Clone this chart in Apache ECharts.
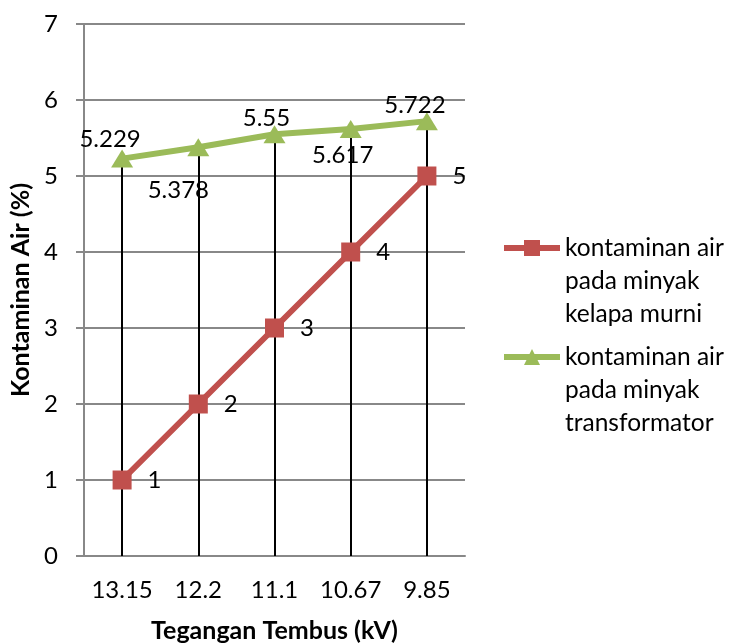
<!DOCTYPE html>
<html>
<head>
<meta charset="utf-8">
<script src="https://cdn.jsdelivr.net/npm/echarts@6/dist/echarts.min.js"></script>
<style>html,body{margin:0;padding:0;background:#fff}#c{width:729px;height:644px}</style>
</head>
<body>
<div id="c"></div>
<script>
const categories = ['13.15', '12.2', '11.1', '10.67', '9.85'];
const kelapaMurni = [1, 2, 3, 4, 5];
const transformator = [5.229, 5.378, 5.55, 5.617, 5.722];
const seriesNames = ['kontaminan air pada minyak kelapa murni', 'kontaminan air pada minyak transformator'];
const legendText = ['kontaminan air\npada minyak\nkelapa murni', 'kontaminan air\npada minyak\ntransformator'];
const yTicks = [0, 1, 2, 3, 4, 5, 6, 7];
// label offsets for the green series (dx, dy) relative to the point
const greenLabelOffsets = [[-12, -19], [-20, 43], [-8, -16], [-8, 26], [-12, -16]];

const FONT = 'Lato';
const FS = 24;
const chart = echarts.init(document.getElementById('c'));

const dropLines = categories.map((c, i) => [
  { coord: [i, Math.max(kelapaMurni[i], transformator[i])] },
  { coord: [i, 0] }
]);

function legendFor(i, top) {
  return {
    data: [seriesNames[i]],
    left: 501,
    top: top,
    padding: 0,
    orient: 'vertical',
    itemWidth: 56,
    itemHeight: 20,
    itemGap: 0,
    lineStyle: { width: 6 },
    formatter: () => '\n\n' + legendText[i],
    textStyle: {
      fontFamily: FONT, fontSize: 24.5, color: '#000', lineHeight: 33
    }
  };
}

chart.setOption({
  animation: false,
  backgroundColor: '#fff',
  grid: { left: 84, right: 264, top: 24, bottom: 88, containLabel: false, outerBoundsMode: 'none' },
  legend: [legendFor(0, 248 - 82.5), legendFor(1, 357 - 82.5)],
  xAxis: {
    type: 'category',
    data: categories,
    boundaryGap: true,
    name: 'Tegangan Tembus (kV)',
    nameLocation: 'middle',
    nameGap: 62,
    nameTextStyle: { fontFamily: FONT, fontSize: 25, fontWeight: 'bold', color: '#000' },
    axisLine: { lineStyle: { color: '#888', width: 2 } },
    axisTick: { show: false },
    axisLabel: { fontFamily: FONT, fontSize: FS, color: '#000', margin: 22, interval: 0 },
    splitLine: { show: false }
  },
  yAxis: {
    type: 'value',
    min: 0, max: 7, interval: 1,
    name: 'Kontaminan Air (%)',
    nameLocation: 'middle',
    nameGap: 50,
    nameTextStyle: { fontFamily: FONT, fontSize: 25, fontWeight: 'bold', color: '#000' },
    axisLine: { show: true, lineStyle: { color: '#888', width: 2 } },
    axisTick: { show: true, length: 8, lineStyle: { color: '#888', width: 2 } },
    axisLabel: {
      fontFamily: FONT, fontSize: FS, color: '#000', margin: 26,
      formatter: v => yTicks.includes(v) ? String(v) : ''
    },
    splitLine: { show: true, lineStyle: { color: '#888', width: 2 } }
  },
  series: [
    {
      name: seriesNames[0],
      type: 'line',
      data: kelapaMurni,
      symbol: 'rect',
      symbolSize: 19,
      z: 4,
      lineStyle: { color: '#C0504D', width: 6 },
      itemStyle: { color: '#C0504D' },
      label: {
        show: true, position: 'right', distance: 16,
        fontFamily: FONT, fontSize: FS, color: '#000'
      },
      markLine: {
        silent: true,
        symbol: 'none',
        label: { show: false },
        lineStyle: { color: '#000', width: 2, type: 'solid' },
        data: dropLines,
        z: 1
      }
    },
    {
      name: seriesNames[1],
      type: 'line',
      data: transformator.map((v, i) => ({
        value: v,
        label: { offset: greenLabelOffsets[i] }
      })),
      symbol: 'triangle',
      symbolSize: [22, 18],
      z: 3,
      lineStyle: { color: '#9BBB59', width: 6 },
      itemStyle: { color: '#9BBB59' },
      label: {
        show: true, position: 'inside',
        fontFamily: FONT, fontSize: FS, color: '#000',
        formatter: p => String(p.value)
      }
    }
  ]
});
</script>
</body>
</html>
